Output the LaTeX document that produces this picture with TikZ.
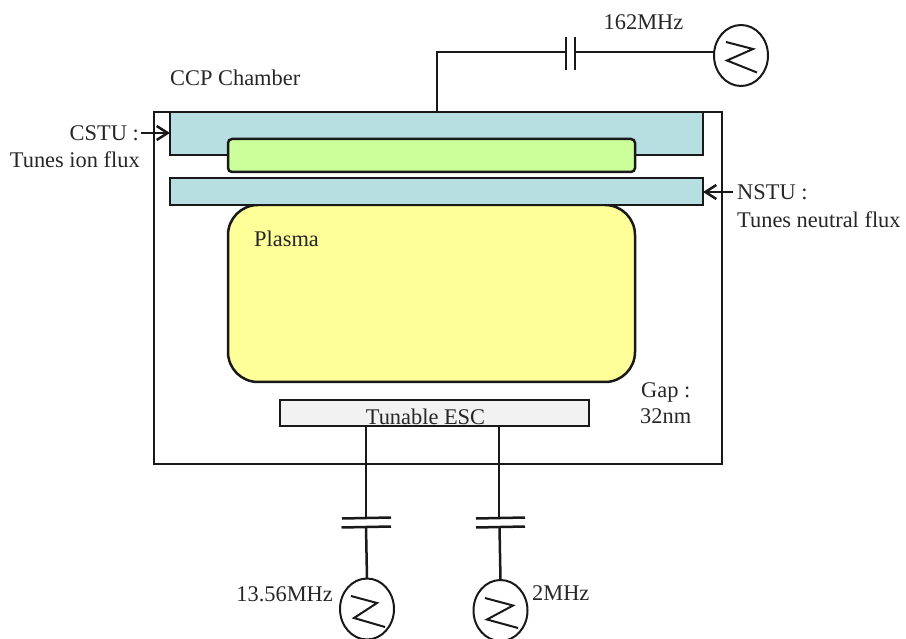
\documentclass[tikz,border=0pt]{standalone}
\usepackage{fontspec}
\setmainfont{Liberation Serif}
\usetikzlibrary{arrows.meta,calc,shapes.geometric}
\definecolor{electrode}{HTML}{B7DEE1}
\definecolor{showerhead}{HTML}{CCFF99}
\definecolor{plasmafill}{HTML}{FFFF99}
\definecolor{escfill}{HTML}{F2F2F2}
\definecolor{labeltext}{HTML}{262626}
\tikzset{
  wire/.style={line width=2.5pt,black!90},
  part/.style={draw=black!90,line width=2.5pt,rectangle,inner sep=0pt,outer sep=0pt},
  source/.style={draw=black!90,line width=2pt,ellipse,inner sep=0pt,outer sep=0pt,
    minimum width=54pt,minimum height=61pt},
  label/.style={inner sep=0pt,text=labeltext,font=\fontsize{22.4}{26}\selectfont},
  sine/.style={line width=2pt,black!90,line join=miter},
  tuning/.style={wire,-{Straight Barb[length=11pt,width=14pt,line width=2.5pt]}},
}
\begin{document}
\begin{tikzpicture}[x=1pt,y=-1pt]
  \useasboundingbox (0,0) rectangle (906,639);
  % chamber
  \node [part,minimum width=568pt,minimum height=352pt] (chamber) at (438,288) {};
  % upper electrodes
  \node [part,fill=electrode,minimum width=533pt,minimum height=43pt]
    (cstu) at (436.5,133.5) {}
  ;
  \node [part,fill=showerhead,rounded corners=4pt,minimum width=407pt,minimum height=33pt]
    (green) at (431.5,155.5) {}
  ;
  % plasma
  \node [part,fill=plasmafill,rounded corners=30pt,minimum width=407pt,minimum height=177pt]
    (plasma) at (431.5,293.5) {}
  ;
  \node [part,fill=electrode,minimum width=533pt,minimum height=27pt]
    (nstu) at (436.5,191.5) {}
  ;
  % chuck
  \node [part,fill=escfill,minimum width=309pt,minimum height=26pt]
    (esc) at (434.5,413) {}
  ;
  \node [label,anchor=base] (esclabel) at (425.5,424.5) {Tunable ESC};
  % top feed
  \node [source] (rftop) at (741,55.5) {};
  \coordinate (feedtop) at (437,112);
  \coordinate (captopa) at (566,52);
  \coordinate (captopb) at (575,52);
  \draw [wire]
    (feedtop)
    -- (437,52)
    -- (captopa)
  ;
  \draw [wire] (captopb) -- (rftop.west |- captopb);
  \draw [wire]
    ($(captopa)+(0,-15)$)
    -- ($(captopa)+(0,18)$)
  ;
  \draw [wire]
    ($(captopb)+(0,-15)$)
    -- ($(captopb)+(0,18)$)
  ;
  \draw [sine]
    ($(rftop)+(-15,-13.5)$)
    -- ++(27,7)
    -- ++(-26,11.5)
    -- ++(30,12)
  ;
  % bottom feeds
  \node [source] (rfmid) at (367,609) {};
  \node [source] (rflow) at (500.5,610.5) {};
  \coordinate (capmida) at (366,518);
  \coordinate (capmidb) at (366,527);
  \coordinate (caplowa) at (499,518);
  \coordinate (caplowb) at (499.5,527);
  \draw [wire] (capmida |- esc.south) -- (capmida);
  \draw [wire] (capmidb) -- (rfmid.north);
  \draw [wire] (caplowa |- esc.south) -- (caplowa);
  \draw [wire] (caplowb) -- (rflow.north);
  \draw [wire]
    ($(capmida)+(-24,0.5)$)
    -- ($(capmida)+(25,-0.5)$)
  ;
  \draw [wire]
    ($(capmidb)+(-24.5,0.5)$)
    -- ($(capmidb)+(25,-0.5)$)
  ;
  \draw [wire]
    ($(caplowa)+(-23,0.5)$)
    -- ($(caplowa)+(26,-0.5)$)
  ;
  \draw [wire]
    ($(caplowb)+(-23.5,0.5)$)
    -- ($(caplowb)+(25.5,-0.5)$)
  ;
  \draw [sine]
    ($(rfmid)+(-16,-13)$)
    -- ++(26,7)
    -- ++(-23,15)
    -- ++(31,9)
  ;
  \draw [sine]
    ($(rflow)+(-15.5,-12.5)$)
    -- ++(28,7.5)
    -- ++(-26,14)
    -- ++(31,8.5)
  ;
  % tuning arrows
  \coordinate (cstutip) at (141,133);
  \coordinate (nstutip) at (733,192);
  \draw [tuning] (cstutip) -- (cstu.west |- cstutip);
  \draw [tuning] (nstutip) -- (nstu.east |- nstutip);
  % labels
  \node [label,anchor=base west] (chamberlabel) at (170,85.5) {CCP Chamber};
  \node [label,anchor=base] (toplabel) at (643.5,30) {162MHz};
  \node [label,anchor=base east] (cstulabel) at (139,141) {CSTU :};
  \node [label,anchor=base east] (cstunote) at (140,168) {Tunes ion flux};
  \node [label,anchor=base west] (nstulabel) at (737,199.5) {NSTU :};
  \node [label,anchor=base west] (nstunote) at (737,228) {Tunes neutral flux};
  \node [label,anchor=base west] (plasmalabel) at (254,246.5) {Plasma};
  \node [label,anchor=base west] (gaplabel) at (641,397) {Gap :};
  \node [label,anchor=base west] (gapvalue) at (640,424) {32nm};
  \node [label,anchor=base east] (midlabel) at (333,601) {13.56MHz};
  \node [label,anchor=base west] (lowlabel) at (532,600) {2MHz};
\end{tikzpicture}
\end{document}
